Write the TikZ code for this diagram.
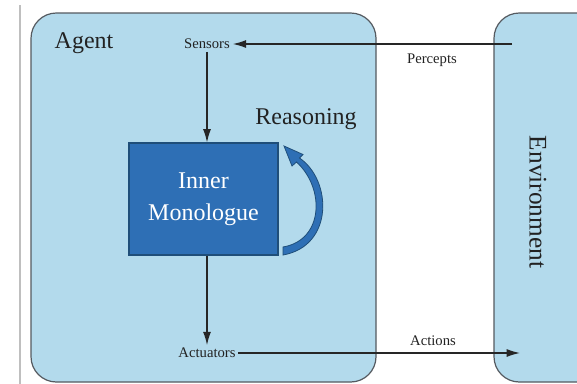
\documentclass[tikz,border=0pt]{standalone}
\usepackage{fontspec}
\setmainfont{Liberation Serif}
\usetikzlibrary{arrows.meta}
\definecolor{panel}{HTML}{B3DAEC}
\definecolor{edge}{HTML}{555A60}
\definecolor{boxblue}{HTML}{2E6FB5}
\definecolor{boxedge}{HTML}{1F4E79}
\definecolor{txt}{HTML}{222222}
\tikzset{
  panelbox/.style={fill=panel, draw=edge, line width=0.9pt, rounded corners=19pt},
  small/.style={font=\fontsize{11}{13}\selectfont, text=txt, inner sep=2pt},
  big/.style={font=\fontsize{18}{21}\selectfont, text=txt},
  flow/.style={draw=black!85, line width=1pt, -{Latex[length=10pt,width=6pt]}},
}
\begin{document}
\begin{tikzpicture}[x=0.75pt,y=-0.75pt]
\useasboundingbox (0,0) rectangle (577,383);
\clip (0,0) rectangle (577,383);
\fill[white] (0,0) rectangle (577,383);
\draw[black!25, line width=2pt] (20,5) -- (20,390);
% panels
\path[panelbox] (31,13) rectangle (376,382);
\path[panelbox] (494,13) rectangle (620,382);
% labels
\node[big, anchor=west] (agent) at (50,43) {Agent};
\node[big, rotate=-90, font=\fontsize{19}{22}\selectfont] (env) at (538,202) {Environment};
\node[small] (sensors) at (207,44) {Sensors};
\node[small] (actuators) at (207,353) {Actuators};
\node[small] (percepts) at (432,60) {Percepts};
\node[small] (actions) at (433,341) {Actions};
\node[big] (reasoning) at (306,119) {Reasoning};
% inner box
\node[fill=boxblue, draw=boxedge, line width=0.8pt, inner sep=0pt,
      text width=111.75pt, minimum width=111.75pt, minimum height=84pt, align=center,
      text=white, font=\fontsize{18}{24}\selectfont] (mono) at (203.5,199) {\raisebox{-3pt}{Inner}\\\raisebox{-3pt}{Monologue}};
\coordinate (penv) at (512,44);
\coordinate (aenv) at (520,353);
\draw[flow] (penv) -- (sensors.east);
\draw[flow] (sensors.south) -- (sensors.south |- mono.north);
\draw[flow] (actuators.north |- mono.south) -- (actuators.north);
\draw[flow] (actuators.east) -- (aenv);
% reasoning curved arrow
\filldraw[fill=boxblue, draw=boxedge, line width=0.6pt]
  (283,255) .. controls (334,246) and (332,180) .. (299.5,158)
  -- (303,154.5) -- (284,146) -- (292,166) -- (296.5,162)
  .. controls (325,188) and (324,240) .. (283,247) -- cycle;
\end{tikzpicture}
\end{document}
